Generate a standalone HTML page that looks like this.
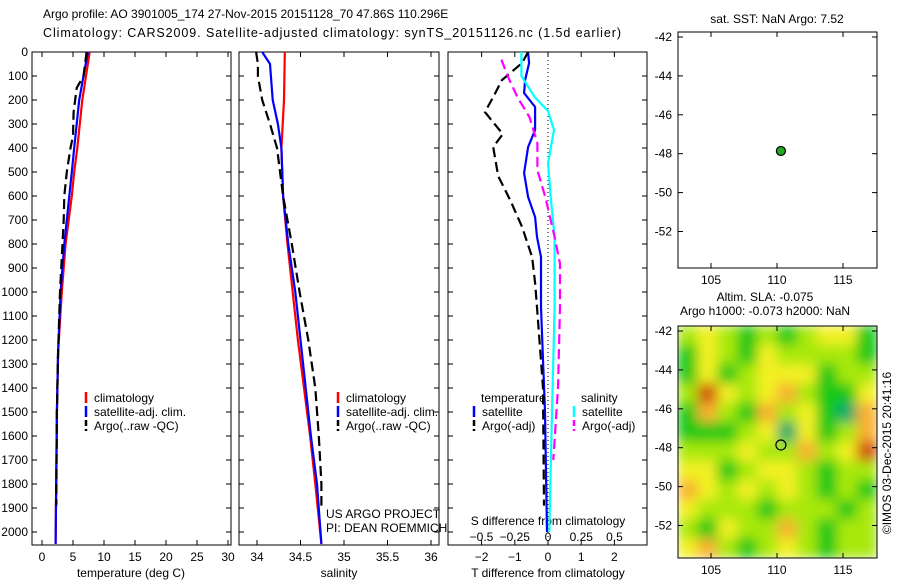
<!DOCTYPE html>
<html><head><meta charset="utf-8"><style>
body{margin:0;background:#fff;}
svg{display:block;font-family:"Liberation Sans",sans-serif;font-size:12px;}
</style></head><body>
<svg id="c" width="900" height="580" viewBox="0 0 900 580" xmlns="http://www.w3.org/2000/svg">
<defs>
<filter id="bl" x="-10%" y="-10%" width="120%" height="120%"><feGaussianBlur stdDeviation="6" edgeMode="duplicate"/></filter>
<clipPath id="mapclip"><rect x="678" y="326" width="199" height="232"/></clipPath>
</defs>
<text x="43" y="18" font-size="12">Argo profile: AO 3901005_174 27-Nov-2015 20151128_70 47.86S 110.296E</text>
<text x="43" y="37" font-size="12.5" textLength="578" lengthAdjust="spacing">Climatology: CARS2009. Satellite-adjusted climatology: synTS_20151126.nc (1.5d earlier)</text>
<g id="g"></g>
</svg>
<script>
// ---- data ----
const depthTicks=[0,100,200,300,400,500,600,700,800,900,1000,1100,1200,1300,1400,1500,1600,1700,1800,1900,2000];
const tTicks=[0,5,10,15,20,25,30];
const sTicks=[34,34.5,35,35.5,36];
const dTTicks=[-2,-1,0,1,2];
const dSTicks=[-0.5,-0.25,0,0.25,0.5];
const dSTickLabels=["-0.5","-0.25","0","0.25","0.5"];
const tClimDepth=[0,100,200,300,400,500,600,700,800,900,1000,1250,1500,2050];
const tClimVal=[7.7,7.1,6.5,6.1,5.7,5.2,4.8,4.3,3.8,3.5,3.2,2.6,2.4,2.2];
const tSatDepth=[0,100,200,300,400,500,600,700,800,1000,1250,1500,2050];
const tSatVal=[7.4,6.7,6.0,5.6,5.2,4.8,4.4,4.0,3.6,3.0,2.6,2.4,2.2];
const tArgoDepth=[0,100,150,250,350,400,500,600,700,800,1000,1250,1500,1890];
const tArgoVal=[7.2,6.7,5.6,5.1,5.0,4.6,4.0,3.6,3.5,3.3,2.9,2.6,2.4,2.3];
const sClimDepth=[0,200,400,600,800,1000,1200,1400,1600,1800,2050];
const sClimVal=[34.32,34.31,34.28,34.30,34.35,34.41,34.47,34.54,34.61,34.67,34.74];
const sSatDepth=[0,50,200,300,400,600,800,1000,1400,1600,1800,2050];
const sSatVal=[34.06,34.15,34.18,34.24,34.28,34.30,34.36,34.44,34.56,34.62,34.69,34.74];
const sArgoDepth=[0,50,100,200,300,400,600,800,1000,1200,1400,1600,1800,1890];
const sArgoVal=[33.99,34.01,34.01,34.06,34.15,34.23,34.30,34.40,34.49,34.59,34.67,34.71,34.74,34.74];
const dTSatDepth=[4,46,117,171,229,325,396,504,604,688,771,854,1063,1500,2000];
const dTSatVal=[-0.6,-0.57,-0.69,-0.72,-0.39,-0.39,-0.6,-0.72,-0.6,-0.39,-0.33,-0.21,-0.21,-0.09,-0.03];
const dTArgoDepth=[0,46,117,188,250,342,396,517,617,729,854,962,1063,1400,1890];
const dTArgoVal=[-0.6,-0.78,-1.39,-1.65,-1.9,-1.36,-1.65,-1.5,-1.14,-0.78,-0.48,-0.39,-0.33,-0.15,-0.12];
const dSSatDepth=[0,100,188,246,325,463,604,771,1063,1500,2000];
const dSSatVal=[-0.2,-0.2,-0.1,0,0.045,0,0.02,0.05,0.05,0.03,0.01];
const dSArgoDepth=[32,104,188,271,379,492,604,771,882,1063,1400,1700];
const dSArgoVal=[-0.35,-0.3,-0.23,-0.14,-0.08,-0.08,-0.02,0.05,0.09,0.09,0.075,0.04];
const lonTicks=[105,110,115];
const latTicks=[-42,-44,-46,-48,-50,-52];
const argoLon=110.296, argoLat=-47.86;
const slaGrid=[
[2,3,2,1,2,1,2,3,3,1],
[1,3,2,1,3,2,2,2,2,1],
[1,3,1,2,3,3,3,1,2,2],
[2,5,3,2,3,4,2,1,1,3],
[1,4,2,1,4,2,3,1,0,4],
[1,1,1,2,3,0,3,1,2,4],
[2,2,2,3,2,2,4,2,3,5],
[3,3,1,2,3,3,2,1,2,2],
[4,3,2,3,2,3,2,1,2,1],
[3,2,2,2,1,2,2,2,1,2],
[2,1,3,2,2,4,2,1,2,2],
[3,4,2,1,2,3,2,1,2,2]];
const slaColors=["#10a870","#18c818","#a8e810","#f2f020","#f8b030","#d04c10"];

// ---- helpers ----
const NS="http://www.w3.org/2000/svg";
const G=document.getElementById('g');
function el(tag,attrs,parent){const e=document.createElementNS(NS,tag);for(const k in attrs)e.setAttribute(k,attrs[k]);(parent||G).appendChild(e);return e;}
function txt(x,y,s,anchor,name,fs){const t=el('text',{x:x,y:y,'text-anchor':anchor||'start','font-size':fs||12});t.textContent=s;


return t;}
const Y0=52,YS=0.24;
const yD=d=>Y0+d*YS;
const PB=545;
const xT=v=>42+v*6.2;
const xS=v=>257+(v-34)*87;
const xDT=v=>548+v*33.2;
const xDS=v=>548+v*133;
const DASH='10,5';
function frame(x1,x2,name){const r=el('rect',{x:x1,y:Y0,width:x2-x1,height:PB-Y0,fill:'none',stroke:'#000','stroke-width':1});


depthTicks.forEach(d=>{el('line',{x1:x1,x2:x1+5,y1:yD(d),y2:yD(d),stroke:'#000'});el('line',{x1:x2,x2:x2-5,y1:yD(d),y2:yD(d),stroke:'#000'});});}
function line(ds,vs,fx,color,dash,name){const pts=ds.map((d,i)=>fx(vs[i]).toFixed(1)+','+yD(d).toFixed(1)).join(' ');
const p=el('polyline',{points:pts,fill:'none',stroke:color,'stroke-width':2.2,'stroke-dasharray':dash||'none'});

}
function legend(x,y,color,dash,label,name){el('line',{x1:x,x2:x,y1:y-10,y2:y+1,stroke:color,'stroke-width':2.5,'stroke-dasharray':dash||'none'});txt(x+8,y,label,'start',name);}

// ---- panel 1 ----
frame(32,231,'temperature-panel');
depthTicks.forEach(d=>txt(28,yD(d)+4,String(d),'end','depth-tick-label'));
tTicks.forEach(v=>{el('line',{x1:xT(v),x2:xT(v),y1:PB,y2:PB-5,stroke:'#000'});el('line',{x1:xT(v),x2:xT(v),y1:Y0,y2:Y0+5,stroke:'#000'});txt(xT(v),561,String(v),'middle','temperature-tick-label');});
txt(131,577,'temperature (deg C)','middle','temperature-axis-title');
line(tClimDepth,tClimVal,xT,'#f00',null,'temp-climatology-line');
line(tSatDepth,tSatVal,xT,'#00f',null,'temp-satellite-line');
line(tArgoDepth,tArgoVal,xT,'#000',DASH,'temp-argo-line');
legend(86,402,'#f00',null,'climatology','legend-climatology');
legend(86,416,'#00f',null,'satellite-adj. clim.','legend-satellite');
legend(86,430,'#000','6,3','Argo(..raw -QC)','legend-argo');

// ---- panel 2 ----
frame(239,439,'salinity-panel');
sTicks.forEach(v=>{el('line',{x1:xS(v),x2:xS(v),y1:PB,y2:PB-5,stroke:'#000'});el('line',{x1:xS(v),x2:xS(v),y1:Y0,y2:Y0+5,stroke:'#000'});txt(xS(v),561,String(v),'middle','salinity-tick-label');});
txt(339,577,'salinity','middle','salinity-axis-title');
line(sClimDepth,sClimVal,xS,'#f00',null,'sal-climatology-line');
line(sSatDepth,sSatVal,xS,'#00f',null,'sal-satellite-line');
line(sArgoDepth,sArgoVal,xS,'#000',DASH,'sal-argo-line');
legend(338,402,'#f00',null,'climatology','legend-climatology-2');
legend(338,416,'#00f',null,'satellite-adj. clim.','legend-satellite-2');
legend(338,430,'#000','6,3','Argo(..raw -QC)','legend-argo-2');
txt(326,518,'US ARGO PROJECT','start','project-credit');
txt(326,532,'PI: DEAN ROEMMICH','start','pi-credit');

// ---- panel 3 ----
frame(448,647,'difference-panel');
el('line',{x1:xDT(0),x2:xDT(0),y1:Y0,y2:PB,stroke:'#000','stroke-dasharray':'1,3'});
dTTicks.forEach(v=>{el('line',{x1:xDT(v),x2:xDT(v),y1:PB,y2:PB-5,stroke:'#000'});el('line',{x1:xDT(v),x2:xDT(v),y1:Y0,y2:Y0+5,stroke:'#000'});txt(xDT(v),561,String(v).replace('-','\u2212'),'middle','t-diff-tick-label');});
dSTicks.forEach((v,i)=>txt(xDS(v),541,dSTickLabels[i].replace('-','\u2212'),'middle','s-diff-tick-label'));
txt(548,525,'S difference from climatology','middle','s-diff-axis-title');
txt(548,577,'T difference from climatology','middle','t-diff-axis-title');
line(dTSatDepth,dTSatVal,xDT,'#00f',null,'t-diff-satellite-line');
line(dTArgoDepth,dTArgoVal,xDT,'#000',DASH,'t-diff-argo-line');
line(dSSatDepth,dSSatVal,xDS,'#0ff',null,'s-diff-satellite-line');
line(dSArgoDepth,dSArgoVal,xDS,'#f0f',DASH,'s-diff-argo-line');
txt(481,402,'temperature','start','legend-temperature-header');
legend(474,416,'#00f',null,'satellite','legend-t-satellite');
legend(474,430,'#000','6,3','Argo(-adj)','legend-t-argo');
txt(581,402,'salinity','start','legend-salinity-header');
legend(574,416,'#0ff',null,'satellite','legend-s-satellite');
legend(574,430,'#f0f','6,3','Argo(-adj)','legend-s-argo');

// ---- maps ----
const mx=v=>678+(v-102.5)*13.2;
function mapAxes(top,bottom,name){const y=v=>top+5+(-42-v)*19.45;
const r=el('rect',{x:678,y:top,width:199,height:bottom-top,fill:'none',stroke:'#000'});


latTicks.forEach(v=>{el('line',{x1:678,x2:683,y1:y(v),y2:y(v),stroke:'#000'});el('line',{x1:877,x2:872,y1:y(v),y2:y(v),stroke:'#000'});txt(672,y(v)+4,String(v),'end','lat-tick-label');});
lonTicks.forEach(v=>{el('line',{x1:mx(v),x2:mx(v),y1:bottom,y2:bottom-5,stroke:'#000'});el('line',{x1:mx(v),x2:mx(v),y1:top,y2:top+5,stroke:'#000'});txt(mx(v),bottom+16,String(v),'middle','lon-tick-label');});
return y;}
// top map
const yTop=mapAxes(32,268,'sst-map');
txt(777,23,'sat. SST: NaN  Argo: 7.52','middle','sst-map-title');
const d1=el('circle',{cx:mx(argoLon),cy:yTop(argoLat),r:4.5,fill:'#2a2',stroke:'#000','stroke-width':1.2});


// bottom map heatmap
const hm=el('g',{'clip-path':'url(#mapclip)'});


const inner=el('g',{filter:'url(#bl)'},hm);
const nR=slaGrid.length,nC=slaGrid[0].length,cw=199/nC,ch=232/nR;
slaGrid.forEach((row,ri)=>row.forEach((v,ci)=>{const c=el('rect',{x:678+ci*cw-0.5,y:326+ri*ch-0.5,width:cw+1,height:ch+1,fill:slaColors[v]},inner);

}));
const yBot=mapAxes(326,558,'sla-map');
txt(765,301,'Altim. SLA: -0.075','middle','sla-map-title');
txt(765,315,'Argo h1000: -0.073 h2000: NaN','middle','sla-map-subtitle');
const d2=el('circle',{cx:mx(argoLon),cy:yBot(argoLat),r:5,fill:'none',stroke:'#000','stroke-width':1.2});


const cr=txt(0,0,'©IMOS 03-Dec-2015 20:41:16','middle','imos-credit');
cr.setAttribute('transform','translate(891,453) rotate(-90)');
</script>
</body></html>
